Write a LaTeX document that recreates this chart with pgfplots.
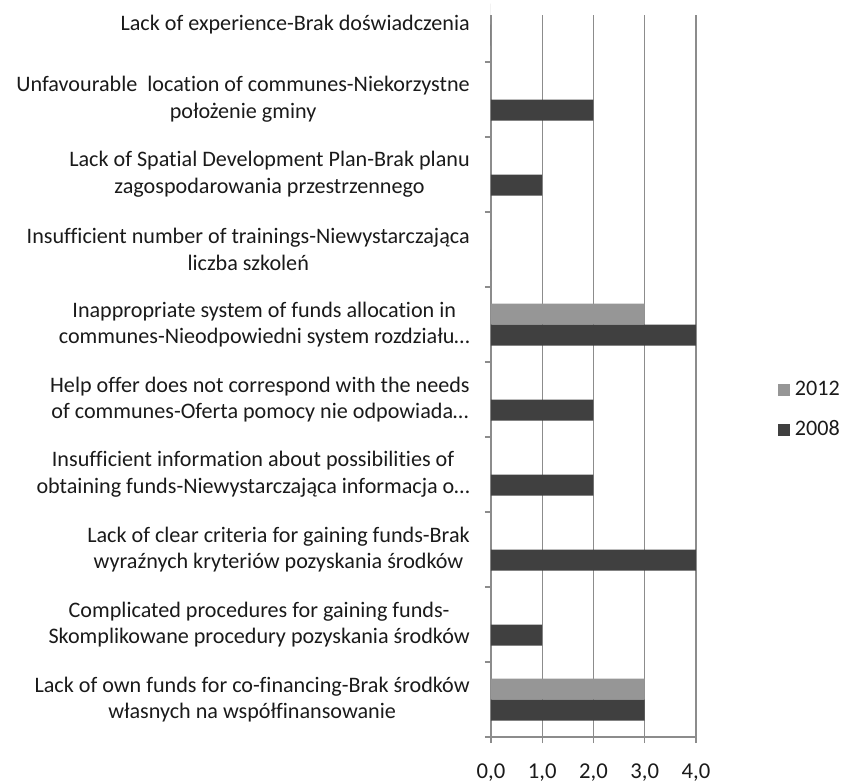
\documentclass[border=0pt]{standalone}
\usepackage{fontspec}
\setmainfont{Carlito}[Ligatures=NoCommon]
\usepackage{pgfplots}
\usepackage{pgfplotstable}
\pgfplotsset{compat=1.18}
\definecolor{lightbar}{HTML}{969696}
\definecolor{darkbar}{HTML}{404040}
\definecolor{gridc}{HTML}{8C8C8C}
\definecolor{txt}{HTML}{1A1A1A}
\pgfplotstableread{
y v2012 v2008
0 3 3
1 0 1
2 0 4
3 0 2
4 0 2
5 3 4
6 0 0
7 0 1
8 0 2
9 0 0
}\data
\begin{document}
\begin{tikzpicture}
\begin{axis}[
  scale only axis,
  width=153.75pt, height=541.5pt,
  xmin=0, xmax=4, ymin=-0.5, ymax=9.127,
  xbar, bar width=0.28,
  axis lines*=left,
  axis line style={gridc, line width=0.8pt},
  xmajorgrids, grid style={gridc, line width=0.8pt},
  xtick={0,1,2,3,4},
  ytick={0,...,9},
  minor ytick={-0.5,0.5,...,8.5},
  tick align=outside,
  major tick length=4.5pt,
  minor tick length=4.5pt,
  ytick style={draw=none},
  minor y tick style={draw=gridc, line width=0.8pt},
  xtick style={gridc, line width=0.8pt},
  font=\fontsize{16.6}{20}\selectfont,
  /pgf/number format/.cd, fixed, fixed zerofill, precision=1, use comma, assume math mode=true,
  /pgfplots/.cd,
  xticklabel style={inner sep=0pt, yshift=-22pt, anchor=center, text=txt, font=\fontsize{17}{20}\selectfont},
  yticklabel style={align=center, inner sep=0pt, anchor=east, xshift=-11.25pt, text=txt, font=\fontsize{16.6}{20}\selectfont},
  yticklabels={
    {Lack of own funds for co-financing-Brak środków\\własnych na współfinansowanie},
    {Complicated procedures for gaining funds-\\Skomplikowane procedury pozyskania środków},
    {Lack of clear criteria for gaining funds-Brak\\wyraźnych kryteriów pozyskania środków},
    {Insufficient information about possibilities of\\obtaining funds-Niewystarczająca informacja o…},
    {Help offer does not correspond with the needs\\of communes-Oferta pomocy nie odpowiada…},
    {Inappropriate system of funds allocation in\\communes-Nieodpowiedni system rozdziału…},
    {Insufficient number of trainings-Niewystarczająca\\liczba szkoleń},
    {Lack of Spatial Development Plan-Brak planu\\zagospodarowania przestrzennego},
    {Unfavourable~ location of communes-Niekorzystne\\położenie gminy},
    {Lack of experience-Brak doświadczenia}
  },
  legend style={at={(rel axis cs:1.40,0.453)}, anchor=west, draw=none, fill=none,
    inner sep=0pt, row sep=16pt,
    nodes={inner sep=0pt, text height=11pt, text depth=3pt, text=txt, font=\fontsize{16.6}{20}\selectfont},
    /tikz/every odd column/.style={column sep=4pt}},
  legend image code/.code={\path[#1,draw=none] (0pt,-4.4pt) rectangle (8.5pt,4.1pt);},
  clip=false,
]
\addplot[fill=lightbar, draw=none, bar shift=0.14] table[x=v2012, y=y] {\data};
\addplot[fill=darkbar, draw=none, bar shift=-0.14] table[x=v2008, y=y] {\data};
\legend{2012,2008}
\end{axis}
\pgfresetboundingbox
\path[use as bounding box] ([xshift=-368.25pt, yshift=-34.5pt]current axis.south west) rectangle ([xshift=264.75pt, yshift=11.25pt]current axis.north west);
\end{tikzpicture}
\end{document}
